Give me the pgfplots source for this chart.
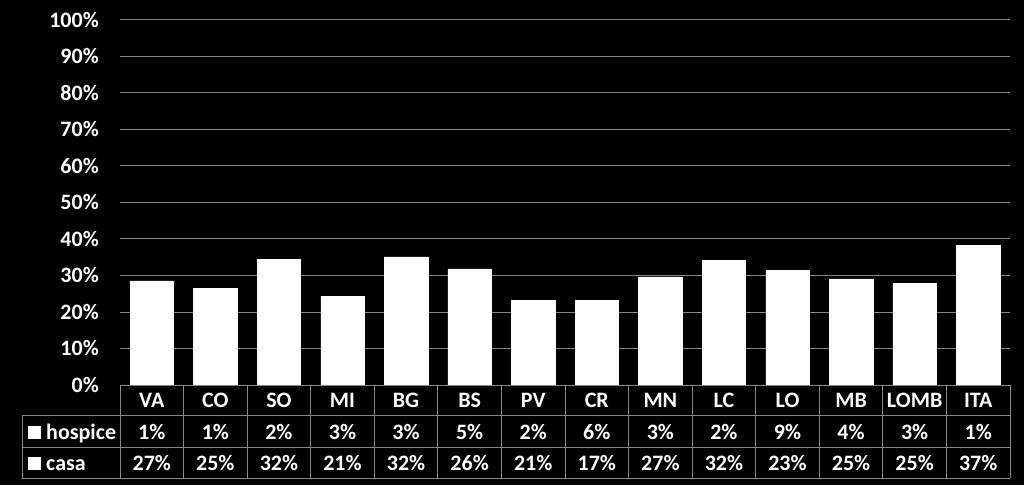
\documentclass[border=0pt]{standalone}
\usepackage{pgfplots}
\pgfplotsset{compat=1.18}
\usepackage{fontspec}
\setmainfont{Carlito}
\definecolor{gridgray}{RGB}{134,134,134}
\newcommand{\tf}{\fontsize{22}{25}\selectfont\bfseries\color{white}}

\begin{document}
\begin{tikzpicture}[x=1pt,y=1pt]
\fill[black] (0,0) rectangle (1024,485);
\useasboundingbox (0,0) rectangle (1024,485);
\begin{axis}[at={(120pt,100pt)}, anchor=south west, scale only axis,
  width=890pt, height=365pt,
  xmin=-0.5, xmax=13.5, ymin=0, ymax=100,
  ybar stacked, bar width=43.5pt,
  axis line style={draw=none}, major tick length=0pt,
  xtick=data,
  xticklabels={VA,CO,SO,MI,BG,BS,PV,CR,MN,LC,LO,MB,LOMB,ITA},
  xticklabel style={anchor=base, yshift=-22.9pt, font=\tf},
  ytick={0,10,...,100},
  yticklabels={0\%,10\%,20\%,30\%,40\%,50\%,60\%,70\%,80\%,90\%,100\%},
  yticklabel style={anchor=east, inner sep=0pt, xshift=-21pt, font=\tf},
  ymajorgrids, major grid style={gridgray, line width=1pt},
]
\addplot[fill=white, draw=white, line width=0.5pt] coordinates {
(0,1) (1,1) (2,2) (3,3) (4,3) (5,5) (6,2) (7,6) (8,3) (9,2) (10,9) (11,4) (12,3) (13,1)};
\addplot[fill=white, draw=white, line width=0.5pt] coordinates {
(0,27.5) (1,25.4) (2,32.4) (3,21.2) (4,32.1) (5,26.8) (6,21.2) (7,17.2) (8,26.6) (9,32.1) (10,22.5) (11,25.1) (12,24.8) (13,37.2)};
\end{axis}
\begin{scope}[gridgray, line width=1pt]
\draw (120,100) -- (1010,100);
\draw (22,69.3) -- (1010,69.3);
\draw (22,38) -- (1010,38);
\draw (22,7) -- (1010,7);
\draw (22,69.3) -- (22,7);
\foreach \k in {0,...,14} \draw ({120+63.5714*\k},100) -- ({120+63.5714*\k},7);
\end{scope}
\fill[white] (28,46) rectangle (41,59);
\fill[white] (28,15) rectangle (41,28);
\node[anchor=base west, inner sep=0pt, font=\tf] at (46,45.9) {hospice};
\node[anchor=base west, inner sep=0pt, font=\tf] at (46,14.9) {casa};
\foreach \v [count=\i from 0] in {1,1,2,3,3,5,2,6,3,2,9,4,3,1}
  \node[anchor=base, inner sep=0pt, font=\tf] at ({120+63.5714*(\i+0.5)},45.9) {\v\%};
\foreach \v [count=\i from 0] in {27,25,32,21,32,26,21,17,27,32,23,25,25,37}
  \node[anchor=base, inner sep=0pt, font=\tf] at ({120+63.5714*(\i+0.5)},14.9) {\v\%};
\end{tikzpicture}
\end{document}
